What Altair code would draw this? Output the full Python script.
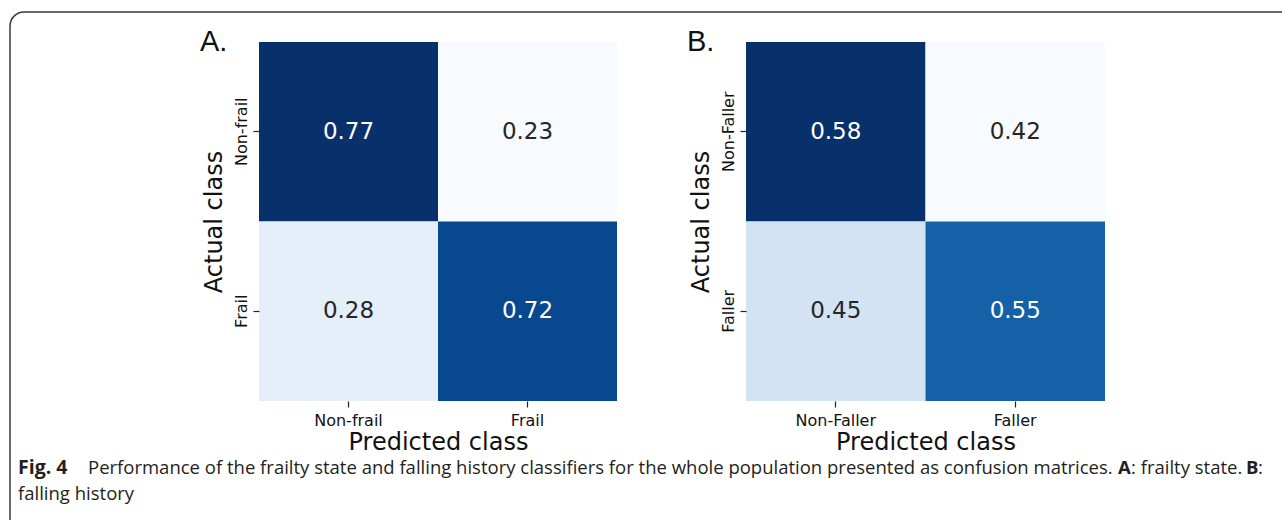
import altair as alt
import numpy as np
import pandas as pd

# Confusion matrices (row = actual class, column = predicted class)
frail_classes = ["Non-frail", "Frail"]
frail_matrix = [[0.77, 0.23],
                [0.28, 0.72]]

faller_classes = ["Non-Faller", "Faller"]
faller_matrix = [[0.58, 0.42],
                 [0.45, 0.55]]

# matplotlib "Blues" anchor colours
blues = ["#f7fbff", "#deebf7", "#c6dbef", "#9ecae1", "#6baed6",
         "#4292c6", "#2171b5", "#08519c", "#08306b"]

W, H = 1282, 520
CHART_FONT = "DejaVu Sans"
CAPTION_FONT = "Open Sans"
CAPTION_SIZE = 18.5


def matrix_frame(classes, matrix):
    rows = []
    for i, actual in enumerate(classes):
        for j, predicted in enumerate(classes):
            rows.append({"actual": actual, "predicted": predicted,
                         "value": matrix[i][j]})
    return pd.DataFrame(rows)


def panel(classes, matrix, x_range, y_range):
    df = matrix_frame(classes, matrix)
    vmin, vmax = float(df["value"].min()), float(df["value"].max())
    stops = [float(v) for v in np.linspace(vmin, vmax, len(blues))]
    mid = (vmin + vmax) / 2

    x = alt.X(
        "predicted:N", sort=classes,
        scale=alt.Scale(range=x_range),
        axis=alt.Axis(
            orient="bottom", offset=-(H - y_range[1]), title="Predicted class",
            labelAngle=0, domain=False, grid=False,
            tickSize=6, tickColor="#222", tickWidth=1.2,
            labelPadding=5, labelFont=CHART_FONT, labelFontSize=16,
            labelColor="#111", labelBaseline="top",
            titleFont=CHART_FONT, titleFontSize=24, titleFontWeight="normal",
            titleColor="#111", titleY=48, titleBaseline="alphabetic",
        ),
    )
    y = alt.Y(
        "actual:N", sort=classes,
        scale=alt.Scale(range=y_range),
        axis=alt.Axis(
            orient="left", offset=-x_range[0], title="Actual class",
            labelAngle=270, labelAlign="center", labelBaseline="bottom",
            domain=False, grid=False,
            tickSize=6, tickColor="#222", tickWidth=1.2,
            labelPadding=4, labelFont=CHART_FONT, labelFontSize=16,
            labelColor="#111",
            titleFont=CHART_FONT, titleFontSize=24, titleFontWeight="normal",
            titleColor="#111", titleAngle=270, titleX=-38,
            titleBaseline="alphabetic", titleAlign="center",
        ),
    )
    base = alt.Chart(df).encode(x=x, y=y)
    cells = base.mark_rect().encode(
        color=alt.Color("value:Q",
                        scale=alt.Scale(domain=stops, range=blues,
                                        interpolate="rgb"),
                        legend=None)
    )
    values = base.mark_text(font=CHART_FONT, fontSize=23).encode(
        text=alt.Text("value:Q", format=".2f"),
        color=alt.condition(alt.datum.value > mid,
                            alt.value("#ffffff"), alt.value("#262626")),
    )
    return alt.layer(cells, values)


def label(text, x, y, font, size, weight="normal", color="#111", align="left"):
    return alt.Chart(pd.DataFrame({"t": [text]})).mark_text(
        font=font, fontSize=size, fontWeight=weight, color=color,
        align=align, baseline="alphabetic",
    ).encode(text="t:N", x=alt.value(x), y=alt.value(y))


panel_a = panel(frail_classes, frail_matrix, [259, 617], [42, 401])
panel_b = panel(faller_classes, faller_matrix, [746, 1105], [42, 401])

tag_a = label("A.", 200, 51, "Liberation Sans", 29)
tag_b = label("B.", 687, 51, "Liberation Sans", 29)

cap_color = "#231f20"
cap_y1, cap_y2 = 474, 500
caption = [
    label("Fig. 4", 18, cap_y1, CAPTION_FONT, CAPTION_SIZE + 1, "bold", cap_color),
    label("Performance of the frailty state and falling history classifiers "
          "for the whole population presented as confusion matrices.",
          88, cap_y1, CAPTION_FONT, CAPTION_SIZE, "normal", cap_color),
    label("A", 1118, cap_y1, CAPTION_FONT, CAPTION_SIZE, "bold", cap_color),
    label(": frailty state.", 1131, cap_y1, CAPTION_FONT, CAPTION_SIZE,
          "normal", cap_color),
    label("B", 1246, cap_y1, CAPTION_FONT, CAPTION_SIZE, "bold", cap_color),
    label(":", 1258, cap_y1, CAPTION_FONT, CAPTION_SIZE, "normal", cap_color),
    label("falling history", 18, cap_y2, CAPTION_FONT, CAPTION_SIZE,
          "normal", cap_color),
]

frame = alt.Chart(pd.DataFrame({"k": [0]})).mark_rect(
    fill=None, stroke="#3a3a3a", strokeWidth=1.5, cornerRadius=14,
).encode(x=alt.value(10), x2=alt.value(W + 40), y=alt.value(12),
         y2=alt.value(H + 40))

chart = (
    alt.layer(panel_a, panel_b, tag_a, tag_b, *caption, frame)
    .resolve_scale(x="independent", y="independent", color="independent")
    .resolve_axis(x="independent", y="independent")
    .properties(width=W, height=H, padding=0,
                autosize=alt.AutoSizeParams(type="none"),
                background="white")
    .configure_view(strokeWidth=0)
)

chart.save("out.html", embed_options={"renderer": "svg", "actions": False})
